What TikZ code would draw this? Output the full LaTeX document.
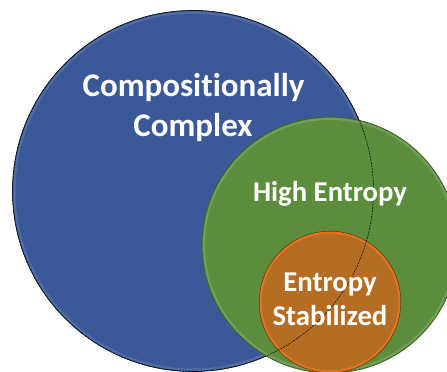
\documentclass[tikz,border=0pt]{standalone}
\usepackage{fontspec}
\setmainfont{Carlito}[Ligatures=NoCommon]
\definecolor{cblue}{RGB}{59,89,152}
\definecolor{cgreen}{RGB}{91,141,61}
\definecolor{corange}{RGB}{180,109,35}
\definecolor{crim}{RGB}{232,115,30}
\begin{document}
\begin{tikzpicture}[x=1pt,y=1pt,
  lbl/.style={text=white,font=\bfseries,inner sep=0pt,anchor=base},
  big/.style={lbl,font=\fontsize{33}{40}\selectfont\bfseries},
  mid/.style={lbl,font=\fontsize{28.7}{34}\selectfont\bfseries}]
\useasboundingbox (0,0) rectangle (447,372);
\clip (0,0) rectangle (447,372);
% blue circle
\coordinate (cb) at (193,181);
\fill[cblue] (cb) circle (180.5);
\draw[black!60!cblue,line width=0.7pt] (cb) circle (180.5);
\draw[white,opacity=0.12,line width=2pt] (cb) circle (178.5);
% green circle
\coordinate (cg) at (330,127);
\fill[cgreen] (cg) circle (128);
\draw[black!35!cgreen,line width=0.7pt] (cg) circle (128);
\draw[white,opacity=0.15,line width=2pt] (cg) circle (126);
% orange circle
\coordinate (co) at (330,70);
\fill[corange] (co) circle (70.5);
\draw[crim,line width=2.2pt] (co) circle (69.5);
\draw[black!40!corange,line width=0.6pt] (co) circle (70.8);
% dashed outline of blue circle
\draw[black,line width=0.5pt,dash pattern=on 2pt off 1pt] (cb) circle (180.5);
% labels
\node[big] (t1) at (193.5,275) {Compositionally};
\node[big] (t2) at (193,235) {Complex};
\node[mid] (t3) at (330,170) {High Entropy};
\node[mid] (t4) at (330,80) {Entropy};
\node[mid] (t5) at (330,46) {Stabilized};
\end{tikzpicture}
\end{document}
